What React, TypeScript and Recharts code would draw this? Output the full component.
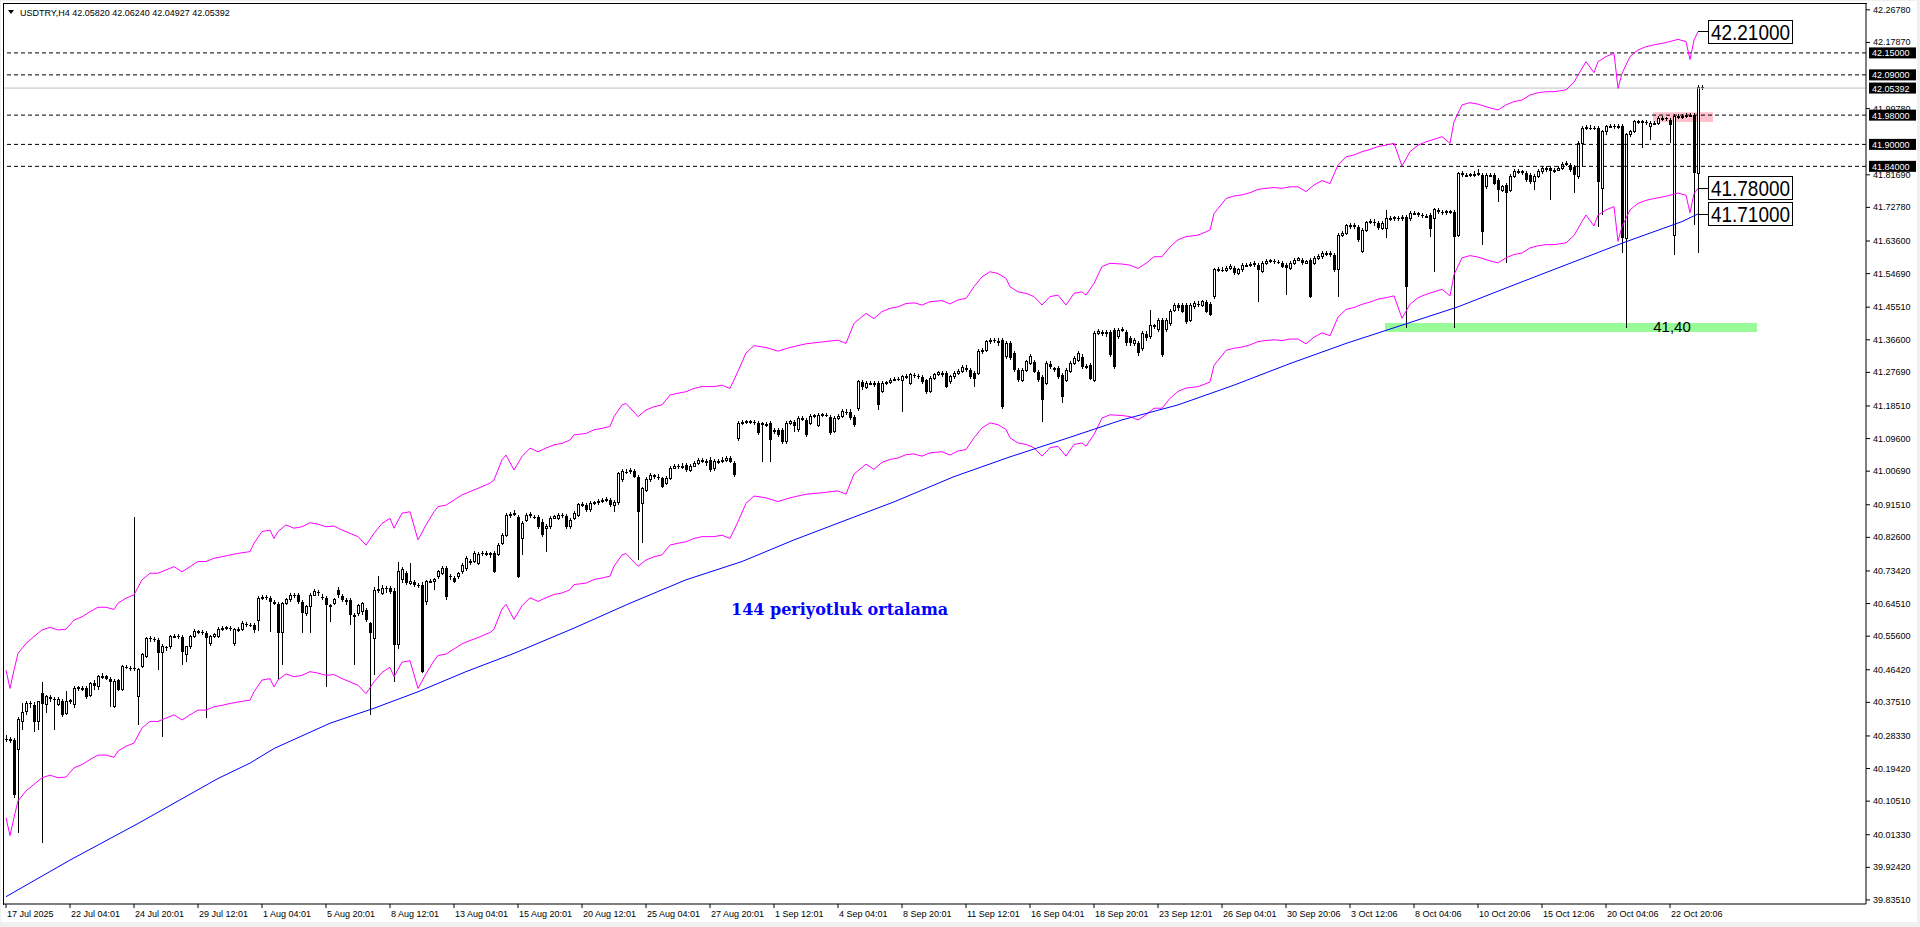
import React from 'react'
import {
	Bar,
	ComposedChart,
	Line,
	ReferenceArea,
	ReferenceDot,
	ReferenceLine,
	XAxis,
	YAxis,
} from 'recharts'

// H4 candles, [open, high, low, close]
const barsJul = [
	[40.276, 40.285, 40.268, 40.274], [40.274, 40.28, 40.265, 40.27], [40.272, 40.278, 40.115, 40.122], [40.245, 40.335, 40.018, 40.327],
	[40.322, 40.372, 40.3, 40.347], [40.35, 40.378, 40.34, 40.372], [40.372, 40.38, 40.36, 40.37], [40.368, 40.375, 40.295, 40.322],
	[40.322, 40.38, 40.3, 40.377], [40.4, 40.43, 39.99, 40.37], [40.368, 40.395, 40.345, 40.39], [40.39, 40.395, 40.375, 40.385],
	[40.385, 40.39, 40.3, 40.383], [40.37, 40.39, 40.365, 40.383], [40.378, 40.385, 40.335, 40.34], [40.345, 40.405, 40.34, 40.377],
	[40.377, 40.385, 40.37, 40.38], [40.368, 40.42, 40.36, 40.413], [40.413, 40.42, 40.405, 40.415], [40.415, 40.42, 40.405, 40.41],
	[40.413, 40.42, 40.385, 40.39], [40.395, 40.43, 40.39, 40.427], [40.427, 40.435, 40.41, 40.42], [40.418, 40.45, 40.41, 40.445],
	[40.445, 40.455, 40.44, 40.447], [40.447, 40.45, 40.435, 40.44], [40.44, 40.445, 40.363, 40.432], [40.363, 40.44, 40.36, 40.432],
	[40.436, 40.44, 40.405, 40.41], [40.41, 40.478, 40.405, 40.473], [40.473, 40.478, 40.465, 40.47], [40.47, 40.475, 40.46, 40.468],
	[40.468, 40.883, 40.46, 40.466], [40.39, 40.47, 40.313, 40.466], [40.473, 40.51, 40.47, 40.505], [40.5, 40.555, 40.495, 40.55],
	[40.55, 40.556, 40.54, 40.548], [40.548, 40.555, 40.54, 40.547], [40.545, 40.55, 40.463, 40.509], [40.51, 40.535, 40.281, 40.527],
	[40.527, 40.53, 40.515, 40.523], [40.527, 40.56, 40.52, 40.556], [40.556, 40.562, 40.55, 40.556], [40.556, 40.562, 40.548, 40.555],
	[40.555, 40.56, 40.477, 40.514], [40.505, 40.53, 40.486, 40.527], [40.527, 40.56, 40.52, 40.555], [40.555, 40.575, 40.55, 40.568],
	[40.568, 40.574, 40.562, 40.568], [40.568, 40.572, 40.56, 40.566], [40.564, 40.57, 40.331, 40.55], [40.536, 40.56, 40.53, 40.555],
	[40.555, 40.565, 40.55, 40.56], [40.555, 40.58, 40.55, 40.575], [40.575, 40.583, 40.57, 40.577], [40.577, 40.585, 40.572, 40.579],
	[40.579, 40.585, 40.57, 40.577], [40.536, 40.578, 40.53, 40.573], [40.573, 40.58, 40.568, 40.575], [40.575, 40.598, 40.57, 40.591],
	[40.59, 40.595, 40.58, 40.587], [40.587, 40.593, 40.58, 40.586], [40.586, 40.592, 40.565, 40.573],
]

const barsAug = [
	[40.598, 40.665, 40.57, 40.66], [40.66, 40.668, 40.655, 40.662], [40.662, 40.668, 40.655, 40.661], [40.66, 40.665, 40.568, 40.65],
	[40.65, 40.655, 40.64, 40.645], [40.645, 40.65, 40.44, 40.565], [40.565, 40.65, 40.477, 40.645], [40.645, 40.66, 40.64, 40.655],
	[40.655, 40.675, 40.65, 40.668], [40.668, 40.675, 40.66, 40.667], [40.668, 40.675, 40.645, 40.65], [40.65, 40.655, 40.564, 40.618],
	[40.618, 40.64, 40.61, 40.637], [40.637, 40.675, 40.564, 40.668], [40.668, 40.685, 40.665, 40.677], [40.677, 40.682, 40.665, 40.673],
	[40.664, 40.67, 40.655, 40.659], [40.659, 40.665, 40.418, 40.641], [40.636, 40.645, 40.596, 40.641], [40.645, 40.66, 40.64, 40.655],
	[40.682, 40.69, 40.66, 40.668], [40.665, 40.67, 40.65, 40.655], [40.655, 40.66, 40.64, 40.65], [40.655, 40.66, 40.587, 40.614],
	[40.614, 40.62, 40.477, 40.608], [40.618, 40.645, 40.61, 40.641], [40.623, 40.65, 40.615, 40.646], [40.627, 40.632, 40.595, 40.6],
	[40.591, 40.595, 40.34, 40.564], [40.55, 40.69, 40.45, 40.682], [40.682, 40.72, 40.675, 40.684], [40.673, 40.695, 40.668, 40.687],
	[40.687, 40.692, 40.675, 40.684], [40.687, 40.692, 40.67, 40.678], [40.68, 40.688, 40.432, 40.532], [40.532, 40.76, 40.52, 40.732],
	[40.71, 40.745, 40.7, 40.737], [40.728, 40.735, 40.695, 40.7], [40.7, 40.755, 40.695, 40.705], [40.705, 40.71, 40.69, 40.697],
	[40.697, 40.702, 40.688, 40.693], [40.696, 40.705, 40.455, 40.459], [40.65, 40.71, 40.64, 40.705], [40.705, 40.712, 40.7, 40.706],
	[40.705, 40.715, 40.683, 40.71], [40.718, 40.737, 40.712, 40.732], [40.728, 40.748, 40.722, 40.742], [40.742, 40.748, 40.655, 40.664],
	[40.72, 40.725, 40.71, 40.717], [40.714, 40.72, 40.7, 40.705], [40.718, 40.732, 40.712, 40.727], [40.732, 40.756, 40.725, 40.75],
	[40.742, 40.775, 40.735, 40.769], [40.762, 40.768, 40.75, 40.755], [40.76, 40.79, 40.755, 40.782], [40.755, 40.785, 40.75, 40.778],
	[40.783, 40.79, 40.775, 40.782], [40.782, 40.79, 40.775, 40.783], [40.783, 40.785, 40.77, 40.778], [40.782, 40.788, 40.728, 40.732],
	[40.78, 40.81, 40.775, 40.805], [40.81, 40.838, 40.805, 40.832], [40.832, 40.893, 40.828, 40.887], [40.887, 40.895, 40.88, 40.889],
	[40.889, 40.9, 40.885, 40.892], [40.883, 40.888, 40.715, 40.719], [40.823, 40.87, 40.778, 40.864], [40.873, 40.893, 40.868, 40.887],
	[40.887, 40.896, 40.88, 40.888], [40.883, 40.888, 40.875, 40.881], [40.883, 40.888, 40.85, 40.855], [40.869, 40.875, 40.828, 40.832],
	[40.85, 40.862, 40.787, 40.856], [40.855, 40.885, 40.85, 40.878], [40.878, 40.888, 40.875, 40.882], [40.878, 40.893, 40.873, 40.887],
	[40.887, 40.892, 40.878, 40.884], [40.884, 40.89, 40.85, 40.855], [40.855, 40.878, 40.85, 40.873], [40.878, 40.898, 40.873, 40.892],
	[40.887, 40.92, 40.882, 40.915], [40.915, 40.922, 40.908, 40.915], [40.915, 40.92, 40.896, 40.901], [40.901, 40.925, 40.896, 40.919],
	[40.919, 40.926, 40.914, 40.92], [40.92, 40.93, 40.915, 40.924], [40.924, 40.934, 40.92, 40.928], [40.928, 40.936, 40.923, 40.93],
	[40.928, 40.934, 40.91, 40.914], [40.914, 40.928, 40.896, 40.922], [40.92, 41.005, 40.915, 41.0], [40.983, 41.012, 40.978, 41.006],
	[41.006, 41.012, 41.0, 41.005], [41.005, 41.015, 41.0, 41.008], [41.008, 41.014, 40.987, 40.992], [40.992, 40.997, 40.764, 40.896],
	[40.919, 40.965, 40.81, 40.96], [40.955, 40.99, 40.95, 40.983], [40.983, 41.002, 40.978, 40.996], [40.996, 41.0, 40.986, 40.992],
	[40.992, 40.998, 40.984, 40.99], [40.987, 40.992, 40.96, 40.965], [40.974, 40.993, 40.97, 40.987], [40.987, 41.02, 40.983, 41.015],
	[41.015, 41.027, 41.012, 41.021], [41.021, 41.026, 41.012, 41.019], [41.019, 41.028, 41.014, 41.021], [41.024, 41.03, 41.005, 41.01],
	[41.01, 41.027, 41.006, 41.021], [41.021, 41.035, 41.018, 41.028], [41.028, 41.042, 41.024, 41.035], [41.035, 41.042, 41.028, 41.035],
	[41.035, 41.04, 41.022, 41.028], [41.038, 41.045, 41.005, 41.01], [41.014, 41.04, 41.008, 41.033], [41.033, 41.04, 41.026, 41.033],
	[41.033, 41.045, 41.028, 41.037], [41.037, 41.048, 41.032, 41.042], [41.042, 41.048, 41.028, 41.033], [41.028, 41.035, 40.99, 40.996],
]

const barsSep = [
	[41.097, 41.143, 41.09, 41.138], [41.138, 41.146, 41.133, 41.14], [41.14, 41.148, 41.135, 41.142], [41.142, 41.148, 41.135, 41.142],
	[41.142, 41.146, 41.133, 41.139], [41.138, 41.144, 41.105, 41.11], [41.138, 41.142, 41.033, 41.134], [41.134, 41.14, 41.128, 41.135],
	[41.138, 41.143, 41.033, 41.092], [41.12, 41.125, 41.108, 41.115], [41.12, 41.125, 41.1, 41.106], [41.12, 41.125, 41.082, 41.088],
	[41.088, 41.143, 41.082, 41.138], [41.138, 41.148, 41.133, 41.142], [41.142, 41.148, 41.115, 41.13], [41.12, 41.157, 41.115, 41.151],
	[41.151, 41.158, 41.143, 41.148], [41.147, 41.152, 41.1, 41.106], [41.138, 41.162, 41.132, 41.156], [41.156, 41.164, 41.152, 41.158],
	[41.133, 41.166, 41.128, 41.16], [41.16, 41.167, 41.155, 41.161], [41.161, 41.167, 41.155, 41.16], [41.156, 41.16, 41.105, 41.11],
	[41.115, 41.157, 41.11, 41.151], [41.151, 41.162, 41.148, 41.156], [41.156, 41.176, 41.152, 41.17], [41.17, 41.176, 41.16, 41.165],
	[41.17, 41.176, 41.146, 41.151], [41.156, 41.16, 41.128, 41.133], [41.178, 41.256, 41.172, 41.251], [41.251, 41.256, 41.23, 41.236],
	[41.236, 41.253, 41.232, 41.247], [41.247, 41.253, 41.242, 41.247], [41.247, 41.252, 41.237, 41.242], [41.247, 41.253, 41.174, 41.188],
	[41.224, 41.252, 41.22, 41.247], [41.247, 41.254, 41.242, 41.248], [41.248, 41.262, 41.244, 41.256], [41.256, 41.264, 41.252, 41.258],
	[41.258, 41.264, 41.252, 41.257], [41.255, 41.27, 41.169, 41.265], [41.265, 41.272, 41.26, 41.265], [41.247, 41.276, 41.242, 41.27],
	[41.27, 41.275, 41.262, 41.267], [41.267, 41.272, 41.26, 41.265], [41.265, 41.27, 41.246, 41.251], [41.256, 41.26, 41.219, 41.224],
	[41.224, 41.266, 41.22, 41.26], [41.26, 41.276, 41.256, 41.27], [41.27, 41.282, 41.266, 41.276], [41.276, 41.282, 41.265, 41.27],
	[41.274, 41.28, 41.233, 41.238], [41.251, 41.27, 41.246, 41.265], [41.265, 41.28, 41.26, 41.274], [41.274, 41.285, 41.27, 41.279],
	[41.279, 41.296, 41.275, 41.29], [41.29, 41.296, 41.278, 41.283], [41.283, 41.29, 41.26, 41.265], [41.274, 41.28, 41.238, 41.26],
	[41.274, 41.34, 41.27, 41.333], [41.333, 41.344, 41.328, 41.338], [41.338, 41.366, 41.333, 41.36], [41.36, 41.372, 41.355, 41.365],
	[41.365, 41.37, 41.357, 41.363], [41.363, 41.37, 41.35, 41.356], [41.365, 41.37, 41.178, 41.183], [41.32, 41.362, 41.314, 41.356],
	[41.356, 41.362, 41.31, 41.315], [41.329, 41.334, 41.278, 41.283], [41.283, 41.29, 41.25, 41.256], [41.256, 41.29, 41.25, 41.283],
	[41.283, 41.312, 41.278, 41.306], [41.302, 41.326, 41.296, 41.32], [41.306, 41.312, 41.274, 41.279], [41.279, 41.284, 41.25, 41.256],
	[41.265, 41.27, 41.142, 41.201], [41.247, 41.307, 41.242, 41.301], [41.301, 41.307, 41.287, 41.292], [41.288, 41.292, 41.278, 41.283],
	[41.288, 41.294, 41.26, 41.265], [41.27, 41.276, 41.192, 41.21], [41.256, 41.29, 41.25, 41.283], [41.279, 41.307, 41.274, 41.301],
	[41.301, 41.322, 41.296, 41.315], [41.31, 41.335, 41.305, 41.329], [41.32, 41.326, 41.287, 41.292], [41.292, 41.3, 41.285, 41.292],
	[41.297, 41.302, 41.256, 41.26], [41.256, 41.39, 41.25, 41.383], [41.383, 41.395, 41.378, 41.388], [41.388, 41.392, 41.376, 41.383],
	[41.383, 41.392, 41.374, 41.386], [41.388, 41.394, 41.318, 41.324], [41.392, 41.398, 41.286, 41.292], [41.374, 41.398, 41.368, 41.392],
	[41.392, 41.4, 41.386, 41.393], [41.388, 41.394, 41.35, 41.356], [41.37, 41.376, 41.35, 41.356], [41.356, 41.372, 41.35, 41.365],
	[41.356, 41.362, 41.323, 41.329], [41.342, 41.39, 41.336, 41.383], [41.383, 41.39, 41.364, 41.37], [41.374, 41.447, 41.368, 41.406],
	[41.406, 41.41, 41.396, 41.402], [41.393, 41.426, 41.388, 41.42], [41.42, 41.426, 41.318, 41.324], [41.393, 41.426, 41.388, 41.42],
	[41.411, 41.449, 41.405, 41.443], [41.447, 41.467, 41.442, 41.461], [41.461, 41.467, 41.446, 41.452], [41.461, 41.467, 41.438, 41.443],
	[41.461, 41.467, 41.41, 41.415], [41.42, 41.467, 41.415, 41.461], [41.456, 41.471, 41.45, 41.465], [41.465, 41.471, 41.455, 41.461],
	[41.461, 41.476, 41.455, 41.47], [41.47, 41.476, 41.438, 41.443], [41.465, 41.47, 41.43, 41.434], [41.484, 41.562, 41.478, 41.557],
	[41.557, 41.564, 41.55, 41.557], [41.557, 41.564, 41.55, 41.556], [41.556, 41.568, 41.552, 41.561], [41.561, 41.572, 41.557, 41.566],
	[41.561, 41.568, 41.543, 41.548], [41.548, 41.563, 41.543, 41.557], [41.557, 41.576, 41.552, 41.57], [41.57, 41.577, 41.565, 41.57],
	[41.57, 41.578, 41.565, 41.571], [41.571, 41.582, 41.566, 41.575], [41.57, 41.576, 41.47, 41.557], [41.552, 41.58, 41.548, 41.575],
	[41.575, 41.586, 41.57, 41.579], [41.579, 41.588, 41.575, 41.582], [41.582, 41.588, 41.574, 41.579], [41.579, 41.585, 41.572, 41.577],
	[41.575, 41.58, 41.561, 41.566], [41.57, 41.576, 41.488, 41.561],
]

const barsOct = [
	[41.561, 41.58, 41.556, 41.575], [41.575, 41.59, 41.57, 41.584], [41.584, 41.593, 41.58, 41.587], [41.584, 41.59, 41.57, 41.575],
	[41.575, 41.585, 41.572, 41.579], [41.584, 41.59, 41.48, 41.484], [41.575, 41.595, 41.57, 41.589], [41.589, 41.6, 41.585, 41.593],
	[41.593, 41.608, 41.588, 41.602], [41.602, 41.608, 41.596, 41.602], [41.602, 41.608, 41.592, 41.597], [41.597, 41.602, 41.552, 41.557],
	[41.557, 41.658, 41.484, 41.652], [41.652, 41.663, 41.648, 41.657], [41.657, 41.683, 41.652, 41.677], [41.677, 41.684, 41.67, 41.677],
	[41.677, 41.684, 41.67, 41.677], [41.675, 41.68, 41.634, 41.639], [41.607, 41.672, 41.602, 41.666], [41.666, 41.692, 41.66, 41.686],
	[41.686, 41.695, 41.682, 41.689], [41.689, 41.695, 41.678, 41.684], [41.684, 41.69, 41.666, 41.671], [41.671, 41.69, 41.666, 41.684],
	[41.671, 41.721, 41.643, 41.698], [41.698, 41.705, 41.692, 41.698], [41.698, 41.705, 41.692, 41.699], [41.699, 41.705, 41.692, 41.698],
	[41.698, 41.706, 41.692, 41.7], [41.702, 41.708, 41.397, 41.511], [41.698, 41.718, 41.692, 41.712], [41.712, 41.718, 41.706, 41.712],
	[41.712, 41.716, 41.702, 41.707], [41.707, 41.712, 41.698, 41.704], [41.704, 41.71, 41.698, 41.704], [41.707, 41.712, 41.648, 41.67],
	[41.698, 41.727, 41.552, 41.721], [41.721, 41.727, 41.71, 41.716], [41.716, 41.72, 41.708, 41.713], [41.713, 41.722, 41.708, 41.716],
	[41.716, 41.722, 41.71, 41.716], [41.716, 41.722, 41.397, 41.648], [41.652, 41.825, 41.646, 41.821], [41.821, 41.826, 41.81, 41.816],
	[41.816, 41.823, 41.81, 41.816], [41.816, 41.823, 41.81, 41.817], [41.817, 41.826, 41.812, 41.819], [41.819, 41.834, 41.814, 41.821],
	[41.816, 41.822, 41.625, 41.661], [41.784, 41.822, 41.778, 41.816], [41.816, 41.822, 41.81, 41.816], [41.816, 41.822, 41.788, 41.793],
	[41.803, 41.808, 41.743, 41.775], [41.775, 41.79, 41.77, 41.784], [41.789, 41.794, 41.575, 41.766], [41.775, 41.818, 41.77, 41.812],
	[41.812, 41.832, 41.807, 41.826], [41.826, 41.832, 41.82, 41.826], [41.826, 41.83, 41.816, 41.821], [41.821, 41.826, 41.798, 41.803],
	[41.816, 41.822, 41.793, 41.798], [41.798, 41.818, 41.775, 41.812], [41.812, 41.832, 41.807, 41.826], [41.826, 41.841, 41.82, 41.835],
	[41.835, 41.841, 41.825, 41.83], [41.835, 41.84, 41.748, 41.826], [41.826, 41.836, 41.821, 41.83], [41.83, 41.841, 41.826, 41.835],
	[41.835, 41.853, 41.83, 41.844], [41.844, 41.855, 41.84, 41.848], [41.844, 41.85, 41.825, 41.83], [41.839, 41.844, 41.766, 41.816],
	[41.812, 41.909, 41.806, 41.903], [41.903, 41.95, 41.839, 41.944], [41.944, 41.952, 41.94, 41.946], [41.946, 41.952, 41.94, 41.945],
	[41.945, 41.95, 41.938, 41.944], [41.944, 41.95, 41.675, 41.798], [41.78, 41.94, 41.707, 41.935], [41.935, 41.954, 41.925, 41.948],
	[41.948, 41.956, 41.944, 41.95], [41.95, 41.955, 41.943, 41.948], [41.948, 41.956, 41.943, 41.95], [41.95, 41.955, 41.602, 41.643],
	[41.643, 41.932, 41.397, 41.926], [41.926, 41.94, 41.92, 41.935], [41.935, 41.968, 41.93, 41.962], [41.962, 41.968, 41.956, 41.962],
	[41.962, 41.968, 41.89, 41.962], [41.962, 41.966, 41.952, 41.958], [41.948, 41.964, 41.912, 41.958], [41.958, 41.964, 41.952, 41.958],
	[41.958, 41.977, 41.953, 41.971], [41.971, 41.977, 41.965, 41.971], [41.971, 41.976, 41.963, 41.969], [41.967, 41.972, 41.903, 41.953],
	[41.652, 41.982, 41.598, 41.976], [41.976, 41.982, 41.97, 41.976], [41.976, 41.983, 41.97, 41.977], [41.977, 41.987, 41.973, 41.98],
	[41.98, 41.987, 41.974, 41.98], [41.98, 41.987, 41.68, 41.821], [41.821, 42.063, 41.603, 42.056], [42.0582, 42.0624, 42.04927, 42.05392],
]

// Envelopes, [bar, value]
const envUpper = [
	[0, 40.463], [1, 40.413], [2, 40.463], [3, 40.509], [5, 40.536], [7, 40.555], [9, 40.573], [11, 40.58], [13, 40.573], [15, 40.575],
	[17, 40.6], [19, 40.609], [21, 40.623], [23, 40.635], [25, 40.635], [27, 40.629], [28, 40.646], [30, 40.66], [32, 40.669], [34, 40.71],
	[36, 40.728], [38, 40.728], [40, 40.737], [42, 40.746], [44, 40.732], [46, 40.746], [48, 40.76], [50, 40.76], [52, 40.769], [54, 40.773],
	[56, 40.778], [59, 40.784], [61, 40.787], [62, 40.81], [64, 40.842], [66, 40.846], [67, 40.823], [68, 40.842], [70, 40.86], [72, 40.851],
	[74, 40.855], [76, 40.866], [78, 40.862], [80, 40.855], [82, 40.857], [84, 40.846], [86, 40.837], [88, 40.828], [90, 40.805], [92, 40.837],
	[94, 40.864], [96, 40.878], [97, 40.851], [99, 40.892], [101, 40.896], [103, 40.819], [105, 40.86], [107, 40.896], [108, 40.91], [110, 40.914],
	[112, 40.928], [114, 40.942], [116, 40.951], [118, 40.96], [121, 40.974], [122, 40.983], [124, 41.038], [125, 41.051], [127, 41.01], [129, 41.047],
	[131, 41.07], [133, 41.06], [135, 41.07], [137, 41.079], [139, 41.083], [141, 41.092], [142, 41.106], [145, 41.11], [147, 41.12], [149, 41.124],
	[151, 41.129], [152, 41.156], [154, 41.188], [155, 41.192], [158, 41.156], [160, 41.174], [162, 41.183], [164, 41.188], [166, 41.215], [168, 41.22],
	[170, 41.224], [172, 41.233], [174, 41.238], [177, 41.238], [179, 41.242], [181, 41.233], [183, 41.28], [185, 41.33], [187, 41.35], [190, 41.345],
	[193, 41.335], [196, 41.345], [200, 41.355], [204, 41.36], [208, 41.365], [210, 41.356], [212, 41.411], [215, 41.438], [217, 41.424], [219, 41.443],
	[221, 41.452], [223, 41.456], [225, 41.465], [227, 41.467], [229, 41.461], [231, 41.47], [234, 41.473], [236, 41.464], [238, 41.475], [240, 41.479],
	[242, 41.511], [244, 41.538], [246, 41.552], [248, 41.547], [250, 41.534], [251, 41.511], [253, 41.497], [255, 41.493], [257, 41.484], [259, 41.461],
	[261, 41.484], [263, 41.488], [265, 41.461], [267, 41.493], [269, 41.497], [270, 41.488], [272, 41.52], [274, 41.566], [276, 41.575], [279, 41.573],
	[281, 41.57], [283, 41.561], [285, 41.575], [287, 41.593], [289, 41.593], [291, 41.62], [293, 41.639], [295, 41.648], [298, 41.652], [300, 41.661],
	[301, 41.666], [302, 41.711], [305, 41.752], [307, 41.759], [309, 41.762], [311, 41.768], [313, 41.777], [315, 41.78], [317, 41.782], [319, 41.78],
	[321, 41.784], [323, 41.784], [325, 41.771], [327, 41.789], [329, 41.801], [331, 41.793], [333, 41.844], [335, 41.866], [337, 41.871], [339, 41.88],
	[341, 41.886], [343, 41.894], [345, 41.898], [347, 41.903], [349, 41.841], [351, 41.88], [353, 41.898], [355, 41.907], [357, 41.914], [359, 41.921],
	[361, 41.903], [362, 41.962], [364, 42.008], [366, 42.014], [368, 42.01], [370, 42.003], [373, 41.994], [375, 42.008], [377, 42.017], [379, 42.021],
	[381, 42.035], [383, 42.041], [385, 42.044], [387, 42.044], [390, 42.049], [392, 42.07], [394, 42.108], [395, 42.126], [397, 42.096], [398, 42.126],
	[400, 42.14], [402, 42.149], [403, 42.053], [404, 42.094], [406, 42.14], [408, 42.158], [410, 42.167], [412, 42.172], [414, 42.176], [416, 42.181],
	[418, 42.187], [420, 42.181], [421, 42.132], [422, 42.185], [423, 42.208],
]

const envLower = [
	[0, 40.06], [1, 40.011], [2, 40.06], [3, 40.106], [5, 40.133], [7, 40.151], [9, 40.169], [11, 40.176], [13, 40.169], [15, 40.171],
	[17, 40.196], [19, 40.205], [21, 40.219], [23, 40.231], [25, 40.231], [27, 40.225], [28, 40.242], [30, 40.255], [32, 40.264], [34, 40.305],
	[36, 40.323], [38, 40.323], [40, 40.332], [42, 40.341], [44, 40.327], [46, 40.341], [48, 40.354], [50, 40.354], [52, 40.363], [54, 40.367],
	[56, 40.372], [59, 40.378], [61, 40.381], [62, 40.404], [64, 40.436], [66, 40.44], [67, 40.417], [68, 40.436], [70, 40.453], [72, 40.445],
	[74, 40.449], [76, 40.459], [78, 40.455], [80, 40.449], [82, 40.451], [84, 40.44], [86, 40.431], [88, 40.422], [90, 40.399], [92, 40.431],
	[94, 40.457], [96, 40.471], [97, 40.445], [99, 40.485], [101, 40.489], [103, 40.413], [105, 40.453], [107, 40.489], [108, 40.503], [110, 40.507],
	[112, 40.521], [114, 40.535], [116, 40.544], [118, 40.552], [121, 40.566], [122, 40.575], [124, 40.63], [125, 40.643], [127, 40.602], [129, 40.639],
	[131, 40.661], [133, 40.651], [135, 40.661], [137, 40.67], [139, 40.674], [141, 40.683], [142, 40.697], [145, 40.701], [147, 40.711], [149, 40.715],
	[151, 40.72], [152, 40.747], [154, 40.778], [155, 40.782], [158, 40.747], [160, 40.764], [162, 40.773], [164, 40.778], [166, 40.805], [168, 40.81],
	[170, 40.814], [172, 40.823], [174, 40.828], [177, 40.828], [179, 40.832], [181, 40.823], [183, 40.869], [185, 40.919], [187, 40.939], [190, 40.934],
	[193, 40.924], [196, 40.934], [200, 40.944], [204, 40.948], [208, 40.953], [210, 40.944], [212, 40.999], [215, 41.026], [217, 41.012], [219, 41.031],
	[221, 41.039], [223, 41.043], [225, 41.052], [227, 41.054], [229, 41.048], [231, 41.057], [234, 41.06], [236, 41.051], [238, 41.062], [240, 41.066],
	[242, 41.098], [244, 41.125], [246, 41.139], [248, 41.134], [250, 41.121], [251, 41.098], [253, 41.084], [255, 41.08], [257, 41.071], [259, 41.048],
	[261, 41.071], [263, 41.075], [265, 41.048], [267, 41.08], [269, 41.084], [270, 41.075], [272, 41.107], [274, 41.152], [276, 41.161], [279, 41.159],
	[281, 41.156], [283, 41.147], [285, 41.161], [287, 41.179], [289, 41.179], [291, 41.206], [293, 41.225], [295, 41.234], [298, 41.238], [300, 41.246],
	[301, 41.251], [302, 41.296], [305, 41.337], [307, 41.343], [309, 41.346], [311, 41.352], [313, 41.361], [315, 41.364], [317, 41.366], [319, 41.364],
	[321, 41.368], [323, 41.368], [325, 41.355], [327, 41.373], [329, 41.385], [331, 41.377], [333, 41.428], [335, 41.449], [337, 41.454], [339, 41.463],
	[341, 41.469], [343, 41.477], [345, 41.481], [347, 41.486], [349, 41.425], [351, 41.463], [353, 41.481], [355, 41.49], [357, 41.497], [359, 41.504],
	[361, 41.486], [362, 41.544], [364, 41.59], [366, 41.596], [368, 41.592], [370, 41.585], [373, 41.576], [375, 41.59], [377, 41.599], [379, 41.603],
	[381, 41.617], [383, 41.623], [385, 41.626], [387, 41.626], [390, 41.631], [392, 41.651], [394, 41.689], [395, 41.707], [397, 41.677], [398, 41.707],
	[400, 41.721], [402, 41.73], [403, 41.635], [404, 41.675], [406, 41.721], [408, 41.739], [410, 41.747], [412, 41.752], [414, 41.756], [416, 41.761],
	[418, 41.767], [420, 41.761], [421, 41.713], [422, 41.765], [423, 41.78],
]

// 144-period moving average, [bar, value]
const ma144 = [
	[0, 39.844], [16, 39.944], [33, 40.044], [53, 40.167], [61, 40.209], [67, 40.249], [81, 40.318], [92, 40.359], [103, 40.404],
	[115, 40.459], [127, 40.509], [142, 40.578], [156, 40.646], [170, 40.71], [184, 40.76], [197, 40.819], [209, 40.869], [222, 40.923],
	[237, 40.992], [251, 41.046], [265, 41.096], [279, 41.147], [293, 41.188], [307, 41.242], [321, 41.301], [335, 41.356], [349, 41.406],
	[363, 41.456], [377, 41.516], [391, 41.575], [405, 41.634], [419, 41.689], [423, 41.71],
]

const priceTicks = [
	42.2678, 42.1787, 41.9978, 41.8169, 41.7278, 41.636, 41.5469, 41.4551, 41.366, 41.2769, 41.1851, 41.096, 41.0069, 40.9151,
	40.826, 40.7342, 40.6451, 40.556, 40.4642, 40.3751, 40.2833, 40.1942, 40.1051, 40.0133, 39.9242, 39.8351,
]

const dateLabels = [
	'17 Jul 2025', '22 Jul 04:01', '24 Jul 20:01', '29 Jul 12:01', '1 Aug 04:01', '5 Aug 20:01', '8 Aug 12:01', '13 Aug 04:01',
	'15 Aug 20:01', '20 Aug 12:01', '25 Aug 04:01', '27 Aug 20:01', '1 Sep 12:01', '4 Sep 04:01', '8 Sep 20:01', '11 Sep 12:01',
	'16 Sep 04:01', '18 Sep 20:01', '23 Sep 12:01', '26 Sep 04:01', '30 Sep 20:06', '3 Oct 12:06', '8 Oct 04:06', '10 Oct 20:06',
	'15 Oct 12:06', '20 Oct 04:06', '22 Oct 20:06',
]
const barsPerLabel = 16

const levelLines = [42.15, 42.09, 41.98, 41.9, 41.84]
const bidPrice = 42.05392
const supportLevel = 41.4
const endTags = [
	{ bar: 423, value: 42.208, text: '42.21000' },
	{ bar: 423, value: 41.78, text: '41.78000' },
	{ bar: 423, value: 41.709, text: '41.71000' },
]

const bars = [...barsJul, ...barsAug, ...barsSep, ...barsOct].map(([open, high, low, close], i) => ({
	i,
	open,
	high,
	low,
	close,
	range: [low, high],
}))
const toPoints = (rows: number[][]) => rows.map(([i, v]) => ({ i, v }))

const Candle = (props: any) => {
	const { x, y, width, height, payload } = props
	if (!payload || !height) return null
	const { open, close, high, low } = payload
	const cx = Math.round(x + width / 2)
	const k = height / (high - low)
	const top = y + (high - Math.max(open, close)) * k
	const bot = y + (high - Math.min(open, close)) * k
	const h = Math.max(bot - top, 1)
	return (
		<g shapeRendering="crispEdges">
			<line x1={cx + 0.5} x2={cx + 0.5} y1={y} y2={y + height} stroke="#000" />
			{close >= open ? (
				<rect x={cx - 0.5} y={top} width={2} height={h} fill="#fff" stroke="#000" />
			) : (
				<rect x={cx - 1} y={top} width={3} height={h} fill="#000" />
			)}
		</g>
	)
}

const DateTick = ({ x, payload }: any) => (
	<text x={x + 1} y={917} fontSize={9} fill="#000">
		{dateLabels[Math.round(payload.value / barsPerLabel)]}
	</text>
)

const PriceTick = ({ y, payload }: any) => (
	<text x={1873} y={y + 3} fontSize={9} fill="#000">
		{payload.value.toFixed(5)}
	</text>
)

const axisTag = (text: string) => (p: any) => (
	<g>
		<rect x={p.cx + 3} y={p.cy - 5.5} width={47} height={11} fill="#000" />
		<text x={p.cx + 6} y={p.cy + 3.5} fontSize={9} fill="#fff">
			{text}
		</text>
	</g>
)

const endTag = (text: string) => (p: any) => (
	<g>
		<line x1={p.cx} x2={p.cx + 10} y1={p.cy} y2={p.cy} stroke="#000" shapeRendering="crispEdges" />
		<rect
			x={p.cx + 10.5}
			y={p.cy - 11.5}
			width={84}
			height={23}
			fill="#fff"
			stroke="#000"
			shapeRendering="crispEdges"
		/>
		<text
			x={p.cx + 13}
			y={p.cy + 8}
			fontSize={22}
			textLength={79}
			lengthAdjust="spacingAndGlyphs"
			fill="#000"
		>
			{text}
		</text>
	</g>
)

const textMark = (text: string, style: any) => (p: any) => (
	<text x={p.cx} y={p.cy} {...style}>
		{text}
	</text>
)

export default function App() {
	return (
		<div
			style={{
				position: 'absolute',
				left: 0,
				top: 0,
				width: 1920,
				height: 927,
				background: '#f0f0f0',
				fontFamily: "'Liberation Sans', Arial, sans-serif",
			}}
		>
			<div style={{ position: 'absolute', left: 1, top: 1, width: 1916, height: 921, background: '#fff' }} />
			<div style={{ position: 'absolute', left: 0, top: 0 }}>
				<ComposedChart width={1920} height={927} data={bars} margin={{ top: 4, right: 0, bottom: 0, left: 4 }}>
					<XAxis
						type="number"
						dataKey="i"
						domain={[-0.5, 465]}
						allowDataOverflow
						ticks={dateLabels.map((_, k) => k * barsPerLabel)}
						interval={0}
						tick={<DateTick />}
						tickSize={4}
						height={23}
						axisLine={{ stroke: '#000' }}
						tickLine={{ stroke: '#000' }}
					/>
					<YAxis
						orientation="right"
						type="number"
						domain={[39.824, 42.2837]}
						allowDataOverflow
						ticks={priceTicks}
						interval={0}
						tick={<PriceTick />}
						tickSize={4}
						width={54}
						axisLine={{ stroke: '#000' }}
						tickLine={{ stroke: '#000' }}
					/>
					<ReferenceArea
						x1={344.75}
						x2={437.75}
						y1={supportLevel - 0.013}
						y2={supportLevel + 0.012}
						fill="#98fb98"
						fillOpacity={1}
						stroke="none"
					/>
					<ReferenceArea x1={411.75} x2={426.75} y1={41.961} y2={41.988} fill="#ffc0cb" fillOpacity={1} stroke="none" />
					{levelLines.map((v) => (
						<ReferenceLine key={v} y={v} stroke="#000" strokeDasharray="4 3" />
					))}
					<ReferenceLine y={bidPrice} stroke="#c0c0c0" />
					<Bar dataKey="range" barSize={3} shape={Candle} isAnimationActive={false} />
					<Line
						data={toPoints(envUpper)}
						dataKey="v"
						type="linear"
						stroke="#ff00ff"
						strokeWidth={1}
						dot={false}
						isAnimationActive={false}
					/>
					<Line
						data={toPoints(envLower)}
						dataKey="v"
						type="linear"
						stroke="#ff00ff"
						strokeWidth={1}
						dot={false}
						isAnimationActive={false}
					/>
					<Line
						data={toPoints(ma144)}
						dataKey="v"
						type="linear"
						stroke="#0000ff"
						strokeWidth={1}
						dot={false}
						isAnimationActive={false}
					/>
					{levelLines.map((v) => (
						<ReferenceDot key={`t${v}`} x={465} y={v} r={0} shape={axisTag(v.toFixed(5))} />
					))}
					<ReferenceDot x={465} y={bidPrice} r={0} shape={axisTag(bidPrice.toFixed(5))} />
					{endTags.map((t) => (
						<ReferenceDot key={t.text} x={t.bar} y={t.value} r={0} shape={endTag(t.text)} />
					))}
					<ReferenceDot
						x={416.5}
						y={supportLevel}
						r={0}
						shape={textMark('41,40', { fontSize: 15, fill: '#000', textAnchor: 'middle', dy: 5 })}
					/>
					<ReferenceDot
						x={181.25}
						y={40.627}
						r={0}
						shape={textMark('144 periyotluk ortalama', {
							fontSize: 16,
							fontWeight: 'bold',
							fontFamily: "'DejaVu Serif', serif",
							fill: '#0000ff',
							dy: 5,
						})}
					/>
				</ComposedChart>
			</div>
			<div
				style={{
					position: 'absolute',
					left: 3,
					top: 3,
					width: 1863,
					height: 901,
					borderLeft: '1px solid #000',
					borderTop: '1px solid #000',
					pointerEvents: 'none',
				}}
			/>
			<svg style={{ position: 'absolute', left: 0, top: 0 }} width={260} height={20}>
				<polygon points="8,10 14,10 11,14" fill="#000" />
				<text x={20} y={16} fontSize={9} fill="#000">
					USDTRY,H4  42.05820 42.06240 42.04927 42.05392
				</text>
			</svg>
		</div>
	)
}
